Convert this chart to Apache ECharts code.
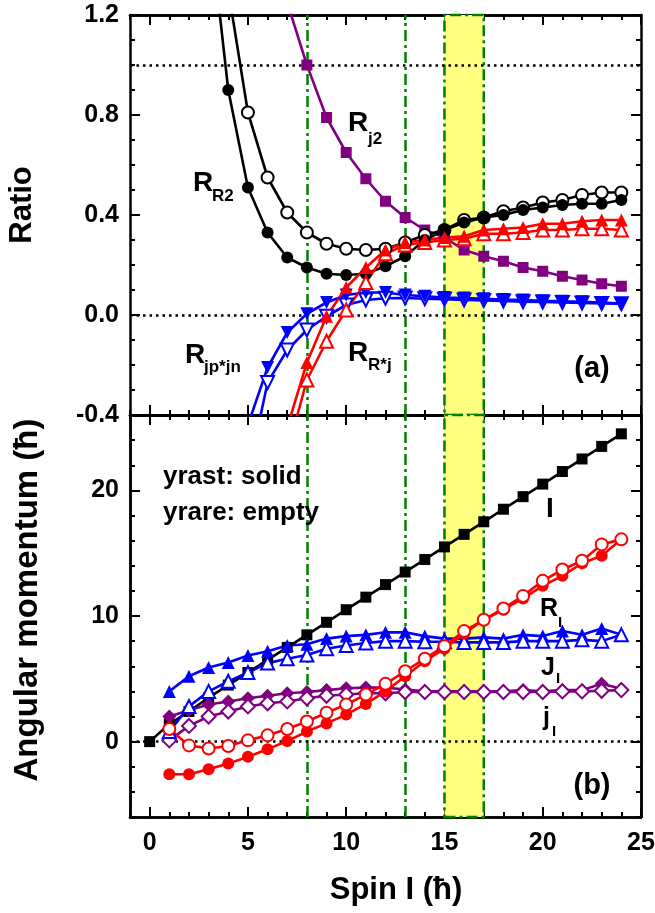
<!DOCTYPE html>
<html>
<head>
<meta charset="utf-8">
<script src="https://cdn.jsdelivr.net/npm/echarts@6/dist/echarts.min.js"></script>
<style>
  html, body { margin: 0; padding: 0; background: #fff; }
  #chart { width: 655px; height: 913px; }
</style>
</head>
<body>
<div id="chart"></div>
<script>
// ---- data ----
const spinTicks = [0, 5, 10, 15, 20, 25];
const ratioTicks = [-0.4, 0.0, 0.4, 0.8, 1.2];
const amTicks = [0, 10, 20];
const guideSpins = [8, 13];          // green dash-dot lines
const bandSpins = [15, 17];          // yellow band

// panel (a): ratios
const spinsRR2Yrast = [3, 4, 5, 6, 7, 8, 9, 10, 11, 12, 13, 14, 15, 16, 17, 18, 19, 20, 21, 22, 23, 24];
const rR2Yrast = [1.6, 0.90, 0.51, 0.33, 0.23, 0.19, 0.165, 0.16, 0.165, 0.195, 0.235, 0.30, 0.34, 0.37, 0.39, 0.40, 0.42, 0.43, 0.44, 0.445, 0.445, 0.46];
const spinsRR2Yrare = [4, 5, 6, 7, 8, 9, 10, 11, 12, 13, 14, 15, 16, 17, 18, 19, 20, 21, 22, 23, 24];
const rR2Yrare = [1.3, 0.81, 0.55, 0.41, 0.33, 0.285, 0.265, 0.26, 0.265, 0.29, 0.32, 0.34, 0.38, 0.39, 0.415, 0.43, 0.45, 0.46, 0.48, 0.49, 0.49];
const spinsRJ2 = [7, 8, 9, 10, 11, 12, 13, 14, 15, 16, 17, 18, 19, 20, 21, 22, 23, 24];
const rJ2 = [1.25, 1.0, 0.79, 0.65, 0.545, 0.455, 0.39, 0.34, 0.31, 0.26, 0.235, 0.215, 0.19, 0.175, 0.155, 0.14, 0.125, 0.115];
const spinsJpJn = [5, 6, 7, 8, 9, 10, 11, 12, 13, 14, 15, 16, 17, 18, 19, 20, 21, 22, 23, 24];
const rJpJnYrast = [-0.44, -0.21, -0.07, 0.005, 0.05, 0.08, 0.09, 0.09, 0.08, 0.075, 0.07, 0.068, 0.065, 0.062, 0.06, 0.057, 0.055, 0.053, 0.05, 0.046];
const rJpJnYrare = [-0.64, -0.27, -0.14, -0.06, -0.005, 0.04, 0.06, 0.067, 0.068, 0.065, 0.063, 0.06, 0.058, 0.056, 0.053, 0.052, 0.05, 0.048, 0.046, 0.045];
const spinsRj = [7, 8, 9, 10, 11, 12, 13, 14, 15, 16, 17, 18, 19, 20, 21, 22, 23, 24];
const rRjYrast = [-0.45, -0.19, -0.005, 0.11, 0.19, 0.26, 0.29, 0.30, 0.31, 0.315, 0.34, 0.345, 0.35, 0.365, 0.365, 0.375, 0.38, 0.38];
const rRjYrare = [-0.55, -0.26, -0.105, 0.02, 0.13, 0.245, 0.28, 0.29, 0.30, 0.305, 0.325, 0.325, 0.33, 0.34, 0.34, 0.345, 0.345, 0.34];

// panel (b): angular momenta
const spinsI = [0, 1, 2, 3, 4, 5, 6, 7, 8, 9, 10, 11, 12, 13, 14, 15, 16, 17, 18, 19, 20, 21, 22, 23, 24];
const amI = [0, 1.4, 2.4, 3.5, 4.5, 5.5, 6.5, 7.5, 8.5, 9.5, 10.5, 11.5, 12.5, 13.5, 14.5, 15.5, 16.5, 17.5, 18.5, 19.5, 20.5, 21.5, 22.5, 23.5, 24.5];
const spins1 = [1, 2, 3, 4, 5, 6, 7, 8, 9, 10, 11, 12, 13, 14, 15, 16, 17, 18, 19, 20, 21, 22, 23, 24];
const rIYrast = [-2.6, -2.6, -2.2, -1.75, -1.2, -0.6, 0.05, 0.8, 1.45, 2.15, 3.0, 4.0, 5.2, 6.4, 7.4, 8.6, 9.7, 10.5, 11.4, 12.4, 13.2, 14.2, 14.8, 16.1];
const rIYrare = [1.0, -0.3, -0.55, -0.35, 0.1, 0.5, 1.0, 1.6, 2.3, 2.95, 3.75, 4.6, 5.6, 6.6, 7.6, 8.8, 9.7, 10.6, 11.6, 12.8, 13.7, 14.4, 15.7, 16.1];
const bigJYrast = [4.0, 5.2, 5.9, 6.3, 6.85, 7.2, 7.65, 7.75, 8.2, 8.4, 8.5, 8.7, 8.7, 8.4, 8.2, 8.2, 8.3, 8.2, 8.5, 8.4, 8.8, 8.5, 9.0, 8.5];
const bigJYrare = [0.8, 2.8, 4.0, 4.8, 5.5, 6.25, 6.6, 6.9, 7.4, 7.65, 7.85, 8.0, 8.0, 7.95, 7.95, 7.9, 7.9, 7.9, 8.0, 8.0, 8.0, 8.1, 8.0, 8.5];
const smallJYrast = [2.0, 2.5, 2.95, 3.2, 3.45, 3.65, 3.85, 3.95, 4.1, 4.25, 4.3, 4.3, 4.15, 4.0, 4.0, 4.0, 4.0, 4.0, 4.1, 4.0, 4.1, 4.1, 4.6, 4.2];
const smallJYrare = [0.1, 1.25, 2.0, 2.4, 2.8, 3.05, 3.2, 3.45, 3.65, 3.75, 3.85, 3.85, 3.95, 3.95, 3.95, 3.95, 3.95, 3.95, 3.95, 3.95, 4.0, 4.0, 4.05, 4.1];

// ---- styling ----
const FONT = '"Liberation Sans", Arial, sans-serif';
const BLACK = '#000', RED = '#ff0000', BLUE = '#0000ff', PURPLE = '#800080', GREEN = '#008000';
const LW = 2.6;

const chart = echarts.init(document.getElementById('chart'));

const pts = (xs, ys) => xs.map((x, i) => [x, ys[i]]);

// one axis of the frame: minor = short ticks every step, major = long ticks (+ labels)
function frameAxis(kind, gridIndex, position, min, max, o) {
    const ax = {
        type: 'value', gridIndex, position, min, max,
        splitLine: { show: false },
        axisLine: { show: true, onZero: false, lineStyle: { color: BLACK, width: 2.5 } },
        axisTick: { show: true, inside: true, length: o.major ? 10 : 5, lineStyle: { color: BLACK, width: 2 } },
        axisLabel: { show: false }
    };
    if (o.interval) ax.interval = o.interval;
    if (o.custom) {
        ax.axisTick.customValues = o.custom;
        ax.axisLabel.customValues = o.custom;
    }
    if (o.minor) ax.minorTick = { show: true, splitNumber: o.minor, length: 5, lineStyle: { color: BLACK, width: 2 } };
    if (o.labels) {
        ax.axisLabel = Object.assign(ax.axisLabel, {
            show: true, color: BLACK, fontFamily: FONT, fontWeight: 'bold', fontSize: 25,
            margin: kind === 'x' ? 14 : 11
        }, o.formatter ? { formatter: o.formatter } : {});
    }
    return ax;
}

const xAxes = [];
[0, 1].forEach(g => {
    xAxes.push(frameAxis('x', g, 'bottom', -1, 25, { interval: 1 }));
    xAxes.push(frameAxis('x', g, 'bottom', -1, 25, { major: true, custom: spinTicks, labels: g === 1 }));
    xAxes.push(frameAxis('x', g, 'top', -1, 25, { interval: 1 }));
    xAxes.push(frameAxis('x', g, 'top', -1, 25, { major: true, custom: spinTicks }));
});

const yAxes = [
    frameAxis('y', 0, 'left', -0.4, 1.2, { major: true, interval: 0.4, minor: 4, labels: true, formatter: v => v.toFixed(1) }),
    frameAxis('y', 0, 'right', -0.4, 1.2, { major: true, interval: 0.4, minor: 4 }),
    frameAxis('y', 1, 'left', -6, 26, { interval: 2 }),
    frameAxis('y', 1, 'left', -6, 26, { major: true, custom: amTicks, labels: true }),
    frameAxis('y', 1, 'right', -6, 26, { interval: 2 }),
    frameAxis('y', 1, 'right', -6, 26, { major: true, custom: amTicks })
];

function line(xi, yi, xs, ys, color, symbol, size, open, rotate) {
    return {
        type: 'line', xAxisIndex: xi, yAxisIndex: yi, data: pts(xs, ys),
        symbol, symbolSize: size, symbolRotate: rotate || 0, showAllSymbol: true,
        clip: true, z: 3,
        lineStyle: { color, width: LW },
        itemStyle: open ? { color: '#fff', borderColor: color, borderWidth: 2 } : { color, borderWidth: 0 }
    };
}

function guides(xi, yi, zeroLines) {
    return [{
        type: 'line', xAxisIndex: xi, yAxisIndex: yi, data: [], z: 1, silent: true,
        markArea: {
            silent: true, z: 1,
            itemStyle: { color: '#ffff80', borderColor: GREEN, borderWidth: 2.5, borderType: [11, 4, 3, 4] },
            data: [[{ xAxis: bandSpins[0] }, { xAxis: bandSpins[1] }]]
        },
        markLine: {
            silent: true, z: 2, symbol: ['none', 'none'], label: { show: false },
            lineStyle: { color: GREEN, width: 2.5, type: [11, 4, 3, 4] },
            data: guideSpins.map(s => ({ xAxis: s }))
        }
    }, {
        type: 'line', xAxisIndex: xi, yAxisIndex: yi, data: [], z: 2, silent: true,
        markLine: {
            silent: true, z: 2, symbol: ['none', 'none'], label: { show: false },
            lineStyle: { color: BLACK, width: 2.5, type: [2.5, 4] },
            data: zeroLines.map(v => ({ yAxis: v }))
        }
    }];
}

const series = [
    ...guides(0, 0, [1.0, 0]),
    line(0, 0, spinsRJ2, rJ2, PURPLE, 'rect', 11, false),
    line(0, 0, spinsRR2Yrare, rR2Yrare, BLACK, 'circle', 12, true),
    line(0, 0, spinsRR2Yrast, rR2Yrast, BLACK, 'circle', 12, false),
    line(0, 0, spinsJpJn, rJpJnYrare, BLUE, 'triangle', 13, true, 180),
    line(0, 0, spinsJpJn, rJpJnYrast, BLUE, 'triangle', 13, false, 180),
    line(0, 0, spinsRj, rRjYrare, RED, 'triangle', 13, true),
    line(0, 0, spinsRj, rRjYrast, RED, 'triangle', 13, false),

    ...guides(4, 2, [0]),
    line(4, 2, spinsI, amI, BLACK, 'rect', 11, false),
    line(4, 2, spins1, smallJYrast, PURPLE, 'diamond', 14, false),
    line(4, 2, spins1, smallJYrare, PURPLE, 'diamond', 14, true),
    line(4, 2, spins1, bigJYrast, BLUE, 'triangle', 13, false),
    line(4, 2, spins1, bigJYrare, BLUE, 'triangle', 13, true),
    line(4, 2, spins1, rIYrast, RED, 'circle', 12, false),
    line(4, 2, spins1, rIYrare, RED, 'circle', 12, true)
];

function txt(text, x, y, size, align, rotation) {
    return {
        type: 'text', x, y, rotation: rotation || 0, z: 10,
        style: {
            text, fill: BLACK, font: 'bold ' + size + 'px ' + FONT,
            align: align || 'left', verticalAlign: 'middle'
        }
    };
}

const graphic = [
    txt('Ratio', 22, 205, 31, 'center', Math.PI / 2),
    txt('Angular momentum (ħ)', 28, 600, 33, 'center', Math.PI / 2),
    txt('Spin I (ħ)', 396, 890, 31, 'center'),
    // panel (a) labels
    txt('R', 193, 183, 28), txt('R2', 212, 196, 17),
    txt('R', 348, 123, 28), txt('j2', 368, 139, 17),
    txt('R', 185, 355, 28), txt('jp*jn', 204, 367, 17),
    txt('R', 348, 353, 28), txt('R*j', 368, 365, 17),
    txt('(a)', 592, 369, 29, 'center'),
    // panel (b) labels
    txt('yrast: solid', 163, 477, 26),
    txt('yrare: empty', 163, 513, 26),
    txt('I', 550, 509, 28, 'center'),
    txt('R', 540, 609, 25), txt('I', 558, 623, 15),
    txt('J', 541, 668, 25), txt('I', 556, 679, 15),
    txt('j', 543, 718, 25), txt('I', 552, 732, 15),
    txt('(b)', 592, 786, 29, 'center')
];

chart.setOption({
    animation: false,
    backgroundColor: '#fff',
    grid: [
        { left: 130, right: 14, top: 15, height: 400, outerBoundsMode: 'none' },
        { left: 130, right: 14, top: 415, height: 402, outerBoundsMode: 'none' }
    ],
    xAxis: xAxes,
    yAxis: yAxes,
    series,
    graphic
});
</script>
</body>
</html>
